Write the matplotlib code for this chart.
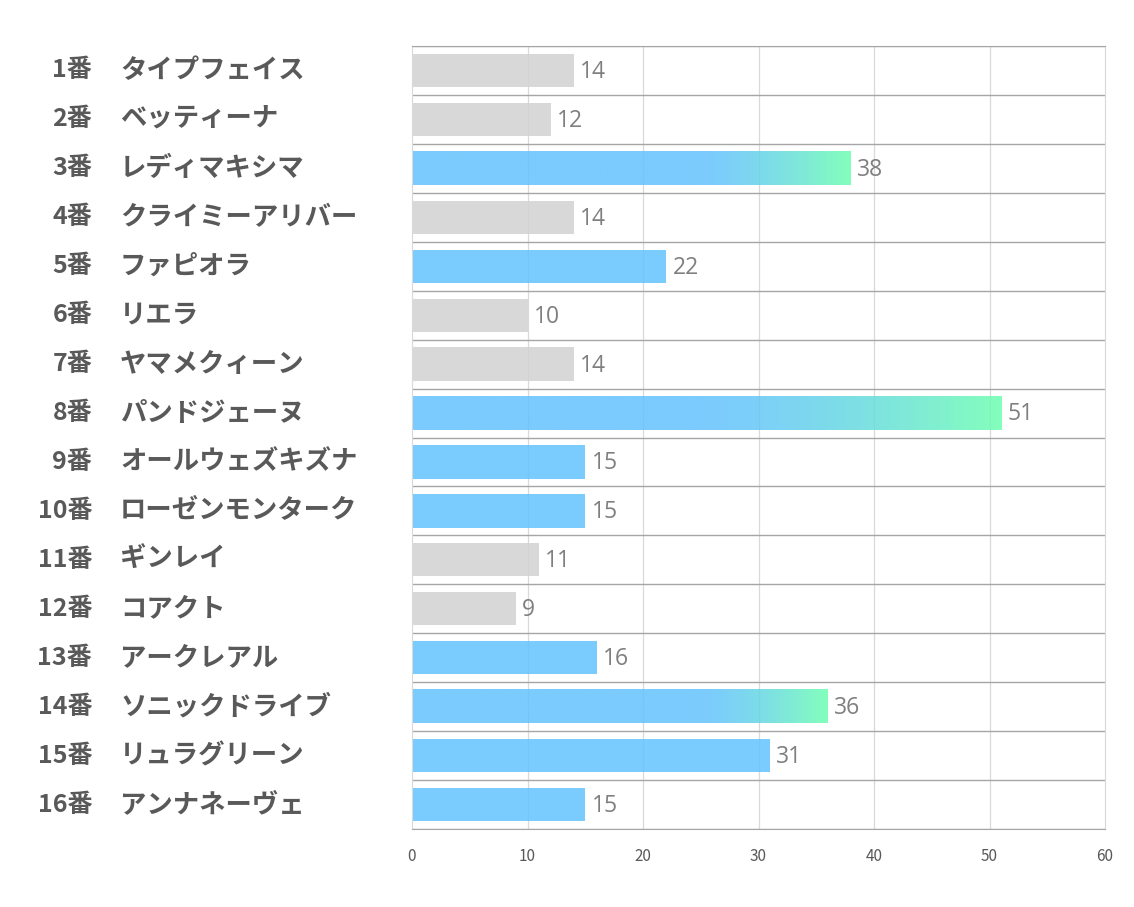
import matplotlib
matplotlib.use("Agg")
import matplotlib.pyplot as plt
import numpy as np

plt.rcParams['font.family'] = ['Noto Sans CJK JP', 'DejaVu Sans']

numbers = ["1番", "2番", "3番", "4番", "5番", "6番", "7番", "8番",
           "9番", "10番", "11番", "12番", "13番", "14番", "15番", "16番"]
names = ["タイプフェイス", "ベッティーナ", "レディマキシマ", "クライミーアリバー",
         "ファピオラ", "リエラ", "ヤマメクィーン", "パンドジェーヌ",
         "オールウェズキズナ", "ローゼンモンターク", "ギンレイ", "コアクト",
         "アークレアル", "ソニックドライブ", "リュラグリーン", "アンナネーヴェ"]
values = [14, 12, 38, 14, 22, 10, 14, 51, 15, 15, 11, 9, 16, 36, 31, 15]
kinds = ["gray", "gray", "grad", "gray", "blue", "gray", "gray", "grad",
         "blue", "blue", "gray", "gray", "blue", "grad", "blue", "blue"]
xticks = [0, 10, 20, 30, 40, 50, 60]

ALPHA = 0.85
GRAY = (210/255, 210/255, 210/255)
BLUE = np.array([99, 194, 254]) / 255
GREEN = np.array([108, 255, 176]) / 255
GRAD_START = 25

fig = plt.figure(figsize=(11.34, 9.07), dpi=100)
ax = fig.add_axes([412/1134, 1-829/907, (1105-412)/1134, (829-46)/907])

n = len(values)
bh = 0.68
for i, (v, k) in enumerate(zip(values, kinds)):
    if k == "gray":
        ax.barh(i, v, height=bh, color=GRAY, alpha=ALPHA, zorder=2, lw=0)
    elif k == "blue":
        ax.barh(i, v, height=bh, color=BLUE, alpha=ALPHA, zorder=2, lw=0)
    else:
        xs = np.linspace(0, v, 512)
        t = np.clip((xs - GRAD_START) / (v - GRAD_START), 0, 1) ** 1.4
        rgb = BLUE[None, :] * (1 - t[:, None]) + GREEN[None, :] * t[:, None]
        img = np.concatenate([rgb, np.full((len(xs), 1), ALPHA)], axis=1)[None, :, :]
        ax.imshow(img, extent=[0, v, i + bh/2, i - bh/2],
                  aspect='auto', zorder=2, interpolation='bilinear')
    ax.text(v + 0.55, i + 0.03, str(v), va='center', ha='left', fontsize=16.5,
            color="#7F7F7F", zorder=3, family=['Open Sans', 'DejaVu Sans'])

ax.set_xlim(0, 60)
ax.set_ylim(n - 0.5, -0.5)
ax.set_xticks(xticks)
ax.set_xticklabels([str(x) for x in xticks], fontsize=11, color="#595959")
ax.tick_params(axis='x', length=0, pad=14)
ax.set_yticks([])

for x in xticks[1:-1]:
    ax.axvline(x, color="#D9D9D9", lw=0.9, zorder=1)
for b in np.arange(n + 1) - 0.5:
    ax.axhline(b, color="#A6A6A6", lw=1.0, zorder=1)

for s in ['top', 'bottom']:
    ax.spines[s].set_color("#A6A6A6")
for s in ['left', 'right']:
    ax.spines[s].set_color("#D9D9D9")

for i in range(n):
    ax.annotate(numbers[i], xy=(0, i), xycoords=('axes fraction', 'data'),
                xytext=(-320, 0), textcoords='offset pixels',
                ha='right', va='center', fontsize=18, fontweight='bold',
                color="#595959")
    ax.annotate(names[i], xy=(0, i), xycoords=('axes fraction', 'data'),
                xytext=(-292, 0), textcoords='offset pixels',
                ha='left', va='center', fontsize=19, fontweight='bold',
                color="#595959")

fig.savefig("out.png", dpi=100)
